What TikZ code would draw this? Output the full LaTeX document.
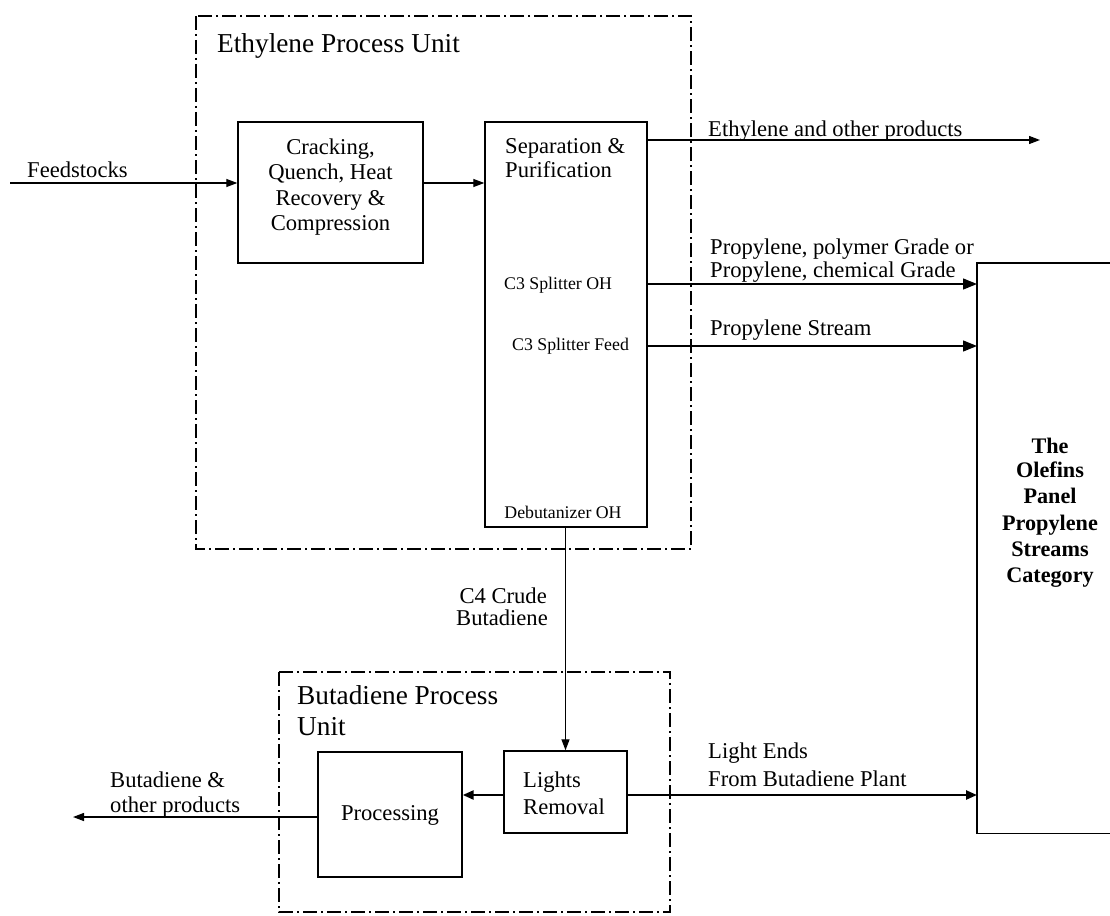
\documentclass[tikz,border=0pt]{standalone}
\usepackage{fontspec}
\setmainfont{Liberation Serif}
\usetikzlibrary{arrows.meta}
\tikzset{
  box/.style={draw, line width=1.4pt, inner sep=0pt},
  hidebox/.style={draw=none, inner sep=0pt},
  unitbox/.style={draw, line width=1.2pt, dash pattern=on 14pt off 4pt on 2pt off 4pt},
  txt/.style={inner sep=0pt, font=\fontsize{22.6}{27}\selectfont},
  ttl/.style={inner sep=0pt, font=\fontsize{27.3}{32}\selectfont},
  smalltxt/.style={inner sep=0pt, font=\fontsize{17.8}{21}\selectfont},
  boldtxt/.style={inner sep=0pt, font=\fontsize{22.2}{26}\selectfont\bfseries},
  arr/.style={line width=1.3pt, -{Triangle[length=11pt,width=8pt]}},
  bigarr/.style={line width=1.3pt, -{Triangle[length=14pt,width=11pt]}},
  thickarr/.style={line width=2.4pt, -{Triangle[length=11pt,width=9pt]}},
}
\begin{document}
\begin{tikzpicture}[x=1pt,y=-1pt]
\useasboundingbox (0,0) rectangle (1110,915);
\fill[white] (0,0) rectangle (1110,915);

% process unit frames
\draw[unitbox] (196,16) rectangle (691,549);
\draw[unitbox] (279,672) rectangle (670,912);
\node[ttl, anchor=base west] (ethtitle) at (217,53) {Ethylene Process Unit};
\node[ttl, anchor=base west] (butitle1) at (297,704) {Butadiene Process};
\node[ttl, anchor=base west] (butitle2) at (297,735) {Unit};

% boxes
\node[box, minimum width=185, minimum height=141] (crack) at (330.5,192.5) {};
\node[box, minimum width=162, minimum height=405] (sep) at (566,324.5) {};
\node[box, minimum width=123, minimum height=82] (lights) at (565.5,792) {};
\node[box, minimum width=144, minimum height=125] (proc) at (390,814.5) {};
\node[hidebox, minimum width=133, minimum height=570, anchor=north west] (olef) at (977,263) {};
\draw[line width=1.4pt] (olef.north east) -- (olef.north west) -- (olef.south west) -- (olef.south east);

% box texts
\node[txt, anchor=base] (cr1) at (330.5,154) {Cracking,};
\node[txt, anchor=base] (cr2) at (330.5,179) {Quench, Heat};
\node[txt, anchor=base] (cr3) at (330.5,205) {Recovery \&};
\node[txt, anchor=base] (cr4) at (330.5,230) {Compression};
\node[txt, anchor=base west] (sp1) at (505,153) {Separation \&};
\node[txt, anchor=base west] (sp2) at (505,177) {Purification};
\node[smalltxt, anchor=base west] (c3oh) at (504,289) {C3 Splitter OH};
\node[smalltxt, anchor=base west] (c3feed) at (512,350) {C3 Splitter Feed};
\node[smalltxt, anchor=base] (debut) at (563,518) {Debutanizer OH};
\node[txt, anchor=base west] (li1) at (523,787) {Lights};
\node[txt, anchor=base west] (li2) at (523,814) {Removal};
\node[txt, anchor=base] (proctxt) at (390,820) {Processing};
\node[boldtxt, anchor=base] (ol1) at (1050,453) {The};
\node[boldtxt, anchor=base] (ol2) at (1050,477) {Olefins};
\node[boldtxt, anchor=base] (ol3) at (1050,503) {Panel};
\node[boldtxt, anchor=base] (ol4) at (1050,530) {Propylene};
\node[boldtxt, anchor=base] (ol5) at (1050,556) {Streams};
\node[boldtxt, anchor=base] (ol6) at (1050,582) {Category};

% stream labels
\node[txt, anchor=base west] (feedlbl) at (27,177) {Feedstocks};
\node[txt, anchor=base west] (ethlbl) at (708,136) {Ethylene and other products};
\node[txt, anchor=base west] (pp1) at (710,254) {Propylene, polymer Grade or};
\node[txt, anchor=base west] (pp2) at (710,277) {Propylene, chemical Grade};
\node[txt, anchor=base west] (psl) at (710,335) {Propylene Stream};
\node[txt, anchor=base east] (c41) at (547,603) {C4 Crude};
\node[txt, anchor=base east] (c42) at (548,625) {Butadiene};
\node[txt, anchor=base west] (bd1) at (110,787) {Butadiene \&};
\node[txt, anchor=base west] (bd2) at (110,812) {other products};
\node[txt, anchor=base west] (le1) at (708,758) {Light Ends};
\node[txt, anchor=base west] (le2) at (708,786) {From Butadiene Plant};

% connectors
\coordinate (feedin) at (10,183);
\coordinate (ethout) at (1040,140);
\coordinate (yoh) at (0,284);
\coordinate (yfeed) at (0,346);
\coordinate (ylights) at (0,795);
\coordinate (bdout) at (73,817);
\draw[arr] (feedin) -- (feedin -| crack.west);
\draw[arr] (crack.east |- feedin) -- (sep.west |- feedin);
\draw[arr] (sep.east |- ethout) -- (ethout);
\draw[bigarr] (sep.east |- yoh) -- (olef.west |- yoh);
\draw[bigarr] (sep.east |- yfeed) -- (olef.west |- yfeed);
\draw[arr] (lights.north |- sep.south) -- (lights.north);
\draw[thickarr] (lights.west |- ylights) -- (proc.east |- ylights);
\draw[thickarr] (lights.east |- ylights) -- (olef.west |- ylights);
\draw[arr] (proc.west |- bdout) -- (bdout);
\end{tikzpicture}
\end{document}
